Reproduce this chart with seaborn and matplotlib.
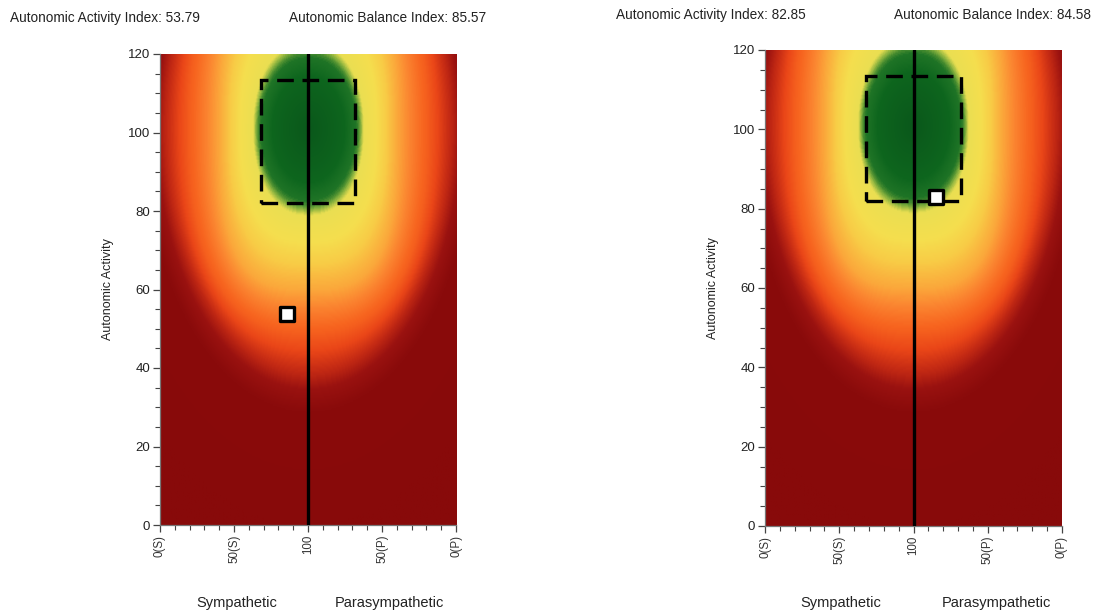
import numpy as np
import matplotlib
matplotlib.use("Agg")
import matplotlib.pyplot as plt
from matplotlib.colors import LinearSegmentedColormap
from matplotlib.patches import Rectangle
from matplotlib.ticker import MultipleLocator
import seaborn as sns

# ---------------- data ----------------
activity_index = [53.79, 82.85]
balance_index = [85.57, 84.58]
balance_side = ["S", "P"]          # side of the balance scale the point lies on
x_tick_pos = [0, 50, 100, 150, 200]
x_tick_labels = ["0(S)", "50(S)", "100", "50(P)", "0(P)"]
y_ticks = [0, 20, 40, 60, 80, 100, 120]
normal_balance = [68, 132]         # dashed "normal" box, balance axis
normal_activity = [82, 113.5]      # dashed "normal" box, activity axis

# background zone contours: level, half-width, half-height, shape exponent
zone_center = (100, 101)
zone_level = [10, 18, 28, 40, 51, 62, 85]
zone_halfw = [20, 34, 46, 60, 80, 97, 132]
zone_halfh = [11, 19.5, 29, 41, 52, 63, 86]
zone_power = [2.0, 2.1, 2.6, 3.0, 2.5, 2.0, 2.0]

sns.set_style("white")
plt.rcParams["font.family"] = ["Liberation Sans", "DejaVu Sans"]

zone_stops = [
    (0.0, "#0a581b"), (13, "#0e661e"), (17, "#1f7426"), (19, "#7fad3c"),
    (21.0, "#eadf52"), (28, "#f5de4e"), (34, "#f8cc46"), (40, "#fba83b"),
    (45, "#fb8430"), (50, "#f7641f"), (56, "#ea4618"), (61, "#c42a14"),
    (66, "#9a1210"), (72, "#8a0b0b"), (100, "#880a0a"),
]
dmax = zone_stops[-1][0]
cmap = LinearSegmentedColormap.from_list(
    "zones", [(d / dmax, c) for d, c in zone_stops])

xs = np.linspace(0, 200, 401)
ys = np.linspace(0, 120, 361)
X, Y = np.meshgrid(xs, ys)
DX = np.abs(X - zone_center[0])
DY = np.abs(Y - zone_center[1])
R = np.array([((DX / a) ** p + (DY / b) ** p) ** (1 / p)
              for a, b, p in zip(zone_halfw, zone_halfh, zone_power)])
R = np.maximum(R, 1e-6)
lv = np.array(zone_level, dtype=float)
D = np.empty_like(X)
D[:] = lv[-1] * R[-1]
inside0 = R[0] <= 1
D[inside0] = lv[0] * R[0][inside0]
done = inside0.copy()
for k in range(1, len(lv)):
    m = (~done) & (R[k] <= 1)
    l0 = np.log(R[k - 1][m])
    l1 = np.log(R[k][m])
    frac = l0 / np.maximum(l0 - l1, 1e-9)
    D[m] = lv[k - 1] + (lv[k] - lv[k - 1]) * frac
    done |= m
D = np.clip(D, 0, dmax)

fig = plt.figure(figsize=(11.15, 6.13), dpi=100)
axes_rects = [
    [160 / 1115, 1 - 525 / 613, 296 / 1115, 471 / 613],
    [765 / 1115, 1 - 526 / 613, 297 / 1115, 476 / 613],
]
header_pos = [(10, 18, 289), (616, 15, 894)]
footer_pos = [(237, 389), (841, 996)]

for i, rect in enumerate(axes_rects):
    ax = fig.add_axes(rect)
    ax.imshow(D, extent=[0, 200, 0, 120], origin="lower", aspect="auto",
              cmap=cmap, vmin=0, vmax=dmax, interpolation="bilinear", zorder=0)
    ax.axvline(100, color="black", lw=2.4, zorder=3)
    ax.add_patch(Rectangle((normal_balance[0], normal_activity[0]),
                           normal_balance[1] - normal_balance[0],
                           normal_activity[1] - normal_activity[0],
                           fill=False, edgecolor="black", lw=2.4,
                           linestyle=(0, (5, 2.6)), zorder=4))
    bx = balance_index[i] if balance_side[i] == "S" else 200 - balance_index[i]
    sns.scatterplot(x=[bx], y=[activity_index[i]], ax=ax, marker="s", s=105,
                    color="white", edgecolor="black", linewidth=2.4, zorder=5,
                    legend=False)
    ax.set_xlim(0, 200)
    ax.set_ylim(0, 120)
    ax.set_xticks(x_tick_pos)
    ax.set_xticklabels(x_tick_labels, rotation=90, fontsize=8.3, color="#333333")
    ax.xaxis.set_minor_locator(MultipleLocator(10))
    ax.set_yticks(y_ticks)
    ax.set_yticklabels([str(v) for v in y_ticks], fontsize=9.5, color="#222222")
    ax.yaxis.set_minor_locator(MultipleLocator(5))
    ax.tick_params(axis="both", which="major", direction="out", length=5,
                   width=0.9, color="#444444", bottom=True, left=True, pad=2)
    ax.tick_params(axis="both", which="minor", direction="out", length=3.5,
                   width=0.8, color="#444444", bottom=True, left=True)
    ax.set_xlabel("")
    ax.set_ylabel("Autonomic Activity", fontsize=9, color="#222222")
    ax.yaxis.set_label_coords(-0.155, 0.5)
    for s in ["top", "right"]:
        ax.spines[s].set_visible(False)
    for s in ["left", "bottom"]:
        ax.spines[s].set_color("#777777")
        ax.spines[s].set_linewidth(0.9)

    hx, hy, bxp = header_pos[i]
    fig.text(hx / 1115, 1 - hy / 613,
             f"Autonomic Activity Index: {activity_index[i]:.2f}",
             fontsize=9.8, color="#222222", va="center", ha="left")
    fig.text(bxp / 1115, 1 - hy / 613,
             f"Autonomic Balance Index: {balance_index[i]:.2f}",
             fontsize=9.8, color="#222222", va="center", ha="left")
    sx, px = footer_pos[i]
    fig.text(sx / 1115, 1 - 603 / 613, "Sympathetic", fontsize=10.5,
             color="#222222", va="center", ha="center")
    fig.text(px / 1115, 1 - 603 / 613, "Parasympathetic", fontsize=10.5,
             color="#222222", va="center", ha="center")

fig.savefig("out.png", dpi=100)
